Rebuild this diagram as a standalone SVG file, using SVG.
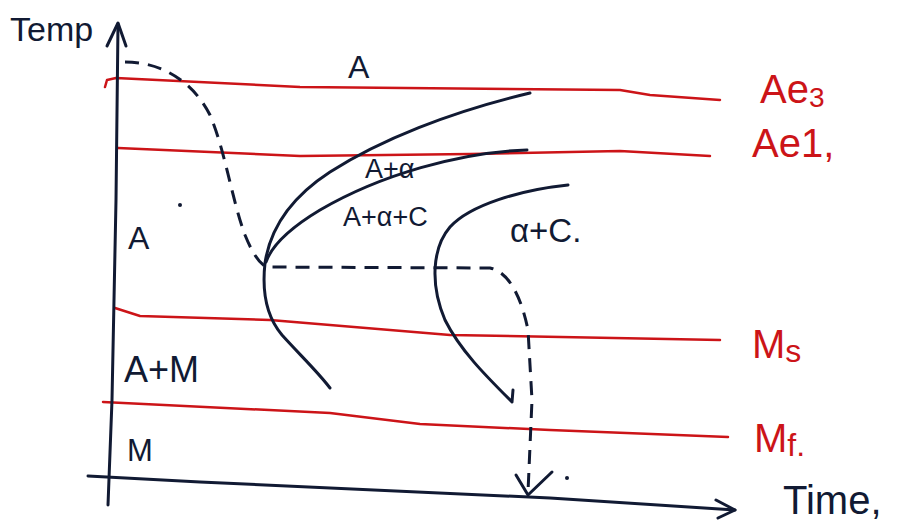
<svg xmlns="http://www.w3.org/2000/svg" width="909" height="527" viewBox="0 0 909 527">
<style>
.ink{fill:none;stroke:#111a33;stroke-width:3;stroke-linecap:round;stroke-linejoin:round}
.dash{fill:none;stroke:#111a33;stroke-width:3;stroke-dasharray:14 9;stroke-linecap:butt}
.red{fill:none;stroke:#cc1418;stroke-width:2.5;stroke-linecap:round;stroke-linejoin:round}
.lbl{font-family:"Liberation Sans","DejaVu Sans",sans-serif;fill:#111a33}
.rl{font-family:"Liberation Sans","DejaVu Sans",sans-serif;fill:#cc1418}
</style>
<rect width="909" height="527" fill="#fff"/>
<g id="isotherms">
<path class="red" d="M105,87 L107,80 L116,78 L300,87 L620,90 L650,95 L720,100"/>
<path class="red" d="M118,148 L300,156 L470,154 L620,151 L710,156"/>
<path class="red" d="M115,308 L140,316 L270,320 L450,335 L720,340"/>
<path class="red" d="M103,402 L330,413 L420,424 L550,430 L728,437"/>
</g>
<g id="axes">
<path class="ink" d="M118,24 L116,200 L112,400 L108,505"/>
<path class="ink" d="M107,46 L118,23 L126,46"/>
<path class="ink" d="M88,476 L200,482 L550,498 L735,510"/>
<path class="ink" d="M716,500 L735,510 L718,518"/>
</g>
<g id="connectors">
<path class="ink" d="M530,93 C450,112 380,140 330,172 C290,198 270,230 265,263 C262,290 265,315 282,335 C300,355 318,372 330,388"/>
<path class="ink" d="M527,150 C460,152 380,175 320,210 C290,228 272,245 266,262"/>
<path class="ink" d="M568,185 C520,190 470,205 450,227 C432,248 430,285 445,320 C460,350 485,375 512,402 M512,402 L513,390"/>
<path class="dash" d="M125,62 C165,62 195,85 210,115 C225,150 232,200 245,235 C252,252 258,262 266,267 L490,268 C510,272 522,300 528,330 L532,400 L528,492"/>
<path class="ink" d="M516,475 L528,495 L552,472"/>
</g>
<g id="labels">
<text class="lbl" x="10" y="41" font-size="34">Temp</text>
<text class="lbl" x="348" y="78" font-size="32">A</text>
<text class="lbl" x="128" y="249" font-size="32">A</text>
<circle cx="180" cy="205" r="2" fill="#111a33"/>
<text class="lbl" x="124" y="382" font-size="36">A+M</text>
<text class="lbl" x="127" y="461" font-size="31">M</text>
<text class="lbl" x="365" y="178" font-size="27">A+α</text>
<text class="lbl" x="343" y="226" font-size="27">A+α+C</text>
<text class="lbl" x="510" y="242" font-size="33">α+C.</text>
<circle cx="567" cy="478" r="2" fill="#111a33"/>
<text class="lbl" x="783" y="514" font-size="40">Time,</text>
<text class="rl" x="760" y="103" font-size="40">Ae<tspan font-size="28" dy="4">3</tspan></text>
<text class="rl" x="752" y="157" font-size="40">Ae1,</text>
<text class="rl" x="752" y="358" font-size="40">M<tspan font-size="32" dy="4">s</tspan></text>
<text class="rl" x="754" y="452" font-size="40">M<tspan font-size="32" dy="4">f.</tspan></text>
</g>
</svg>
